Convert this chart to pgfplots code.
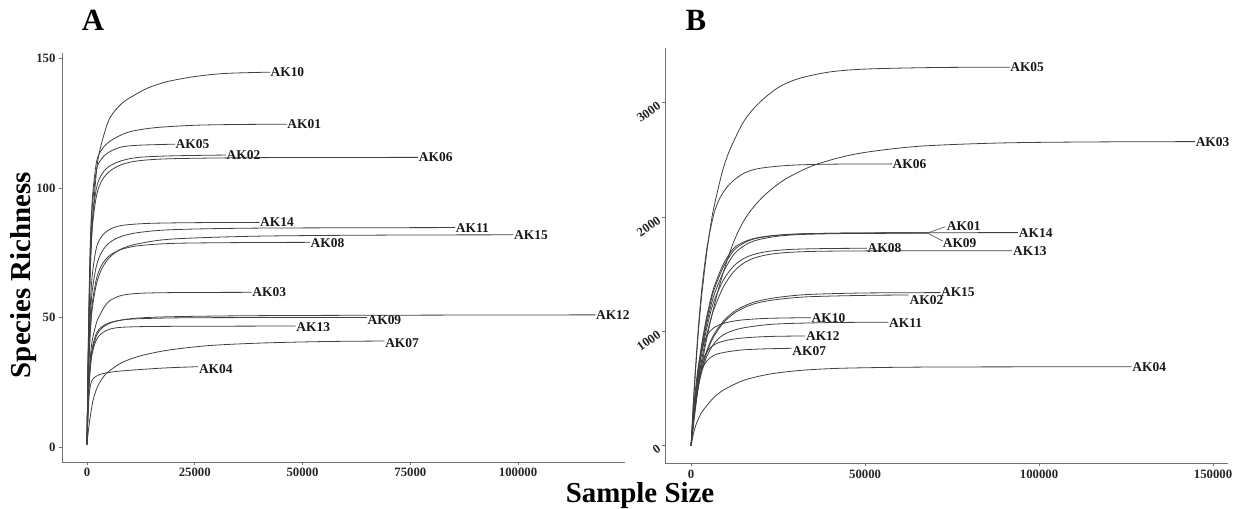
\documentclass[border=0pt]{standalone}
\usepackage{pgfplots}
\pgfplotsset{compat=1.18}
\usepackage{fontspec}
\setmainfont{Liberation Serif}
\begin{document}
\begin{tikzpicture}[x=1bp,y=1bp]
\useasboundingbox (0,0) rectangle (1237,509);
\pgfplotsset{
  rc/.style={scale only axis, clip=false,
    axis x line*=bottom, axis y line*=left,
    axis line style={-, draw=black!55, line width=0.9bp},
    tick align=outside, xtick pos=bottom, ytick pos=left,
    major tick length=3bp, tick style={black!55, line width=0.8bp},
    scaled ticks=false,
    /pgf/number format/fixed,
    /pgf/number format/1000 sep={},
    /pgf/number format/assume math mode=true,
    tick label style={font=\fontsize{12.8}{13}\selectfont\bfseries, text=black!85},
  },
  curve/.style={black!75, line width=0.8bp, smooth, no marks},
}
\tikzset{lab/.style={font=\fontsize{13.5}{14}\selectfont\bfseries, anchor=west, inner sep=0.6bp, text=black!90}}

% ---------------- Panel A ----------------
\begin{axis}[rc, at={(62bp,47bp)}, anchor=south west, width=563bp, height=409bp,
  xmin=-5800, xmax=124800, ymin=-5.8, ymax=152.1,
  xtick={0,25000,50000,75000,100000}, ytick={0,50,100,150}]
\addplot[curve] coordinates {(0,1)(300,35)(700,65)(1200,85)(2300,108)(3500,118)(5300,127)(8000,132.5)(10650,135.5)(14000,138.5)(18500,141)(25000,143)(32000,144.2)(42400,144.7)};
\addplot[curve] coordinates {(0,1)(300,40)(700,75)(1200,95)(2200,110)(3500,115)(5300,118)(8000,120.5)(10700,122)(16000,123.3)(25000,124.2)(35000,124.5)(46300,124.6)};
\addplot[curve] coordinates {(0,1)(300,38)(700,72)(1200,92)(2200,107)(3500,111.5)(5300,114)(8000,115.8)(12000,116.5)(20400,116.9)};
\addplot[curve] coordinates {(0,1)(300,36)(700,68)(1200,87)(2200,100)(3500,105.5)(5300,108.5)(8000,110.5)(12000,111.8)(20000,112.4)(32200,112.7)};
\addplot[curve] coordinates {(0,1)(300,35)(700,65)(1200,84)(2200,97)(3500,103)(5300,106.5)(8000,109)(12000,110.5)(20000,111.3)(40000,111.7)(76800,111.8)};
\addplot[curve] coordinates {(0,1)(300,30)(700,52)(1200,66)(2200,77)(3500,81.5)(5300,84)(8000,85.5)(14000,86.3)(25000,86.6)(40000,86.7)};
\addplot[curve] coordinates {(0,1)(300,28)(700,48)(1200,60)(2200,70)(3500,75.5)(5300,79)(8000,81.3)(12000,82.8)(20000,83.9)(40000,84.5)(85400,84.7)};
\addplot[curve] coordinates {(0,1)(300,25)(700,42)(1200,53)(2200,63)(3500,69)(5300,73.3)(8000,76.5)(12000,78.5)(20000,80.3)(40000,81.4)(70000,81.8)(98900,81.9)};
\addplot[curve] coordinates {(0,1)(300,26)(700,44)(1200,55)(2200,65)(3500,70.5)(5300,74)(8000,76.3)(12000,77.7)(20000,78.6)(35000,78.9)(51700,79.0)};
\addplot[curve] coordinates {(0,1)(300,20)(700,33)(1200,41)(2200,48)(3000,51)(4000,54)(5300,56.5)(8000,58.5)(12000,59.3)(20000,59.6)(38200,59.7)};
\addplot[curve] coordinates {(0,1)(300,18)(700,30)(1200,37)(2200,43)(3500,46)(5300,47.8)(8000,49)(12000,49.8)(20000,50.3)(40000,50.7)(80000,50.9)(117900,51)};
\addplot[curve] coordinates {(0,1)(300,19)(700,31)(1200,38)(2200,44)(3500,46.5)(5300,48)(8000,49)(12000,49.5)(25000,49.9)(64900,50)};
\addplot[curve] coordinates {(0,1)(300,18)(700,29)(1200,36)(2200,41.5)(3500,44)(5300,45.5)(8000,46.2)(14000,46.5)(25000,46.6)(48400,46.7)};
\addplot[curve] coordinates {(0,1)(300,6)(700,11)(1400,18)(2500,23.5)(4000,27.5)(5300,29.5)(8000,32.5)(12000,35)(18500,37.3)(28000,39.1)(40000,40.1)(55000,40.7)(69000,40.9)};
\addplot[curve] coordinates {(0,1)(200,10)(500,20)(900,24.5)(1500,26.5)(3000,28)(6000,29)(10700,29.7)(18000,30.5)(25800,31)};
\node[lab] at (axis cs:42400,144.7) {AK10};
\node[lab] at (axis cs:46300,124.6) {AK01};
\node[lab] at (axis cs:20400,116.9) {AK05};
\node[lab] at (axis cs:32200,112.7) {AK02};
\node[lab] at (axis cs:76800,111.8) {AK06};
\node[lab] at (axis cs:40000,86.7) {AK14};
\node[lab] at (axis cs:85400,84.7) {AK11};
\node[lab] at (axis cs:98900,81.9) {AK15};
\node[lab] at (axis cs:51700,78.6) {AK08};
\node[lab] at (axis cs:38200,59.7) {AK03};
\node[lab] at (axis cs:117900,51) {AK12};
\node[lab] at (axis cs:64900,48.9) {AK09};
\node[lab] at (axis cs:48400,46.4) {AK13};
\node[lab] at (axis cs:69000,40.0) {AK07};
\node[lab] at (axis cs:25800,29.9) {AK04};
\end{axis}

% ---------------- Panel B ----------------
\begin{axis}[rc, at={(665bp,45.7bp)}, anchor=south west, width=563bp, height=415.3bp,
  xmin=-7500, xmax=154300, ymin=-154, ymax=3479,
  xtick={0,50000,100000,150000}, ytick={0,1000,2000,3000},
  yticklabel style={rotate=35, anchor=east}]
% AK05
\addplot[curve] coordinates {(0,0)(500,280)(1000,530)(2000,960)(3000,1300)(4500,1690)(6000,2000)(7400,2200)(9000,2400)(10500,2540)(12200,2660)(15000,2830)(18000,2950)(21800,3060)(26000,3150)(31300,3215)(40000,3270)(50500,3295)(70000,3308)(91500,3311)};
% AK03
\addplot[curve] coordinates {(0,0)(1000,260)(2000,500)(3500,780)(5000,1010)(7000,1270)(9300,1520)(12200,1780)(15000,1960)(18000,2090)(21800,2210)(27000,2330)(34200,2440)(42000,2515)(50500,2568)(65800,2620)(88800,2648)(115000,2657)(144800,2660)};
% AK06
\addplot[curve] coordinates {(0,0)(500,300)(1000,560)(2000,1000)(3000,1350)(4500,1720)(6400,2010)(8000,2150)(10000,2250)(12200,2320)(15000,2380)(18000,2415)(21800,2435)(28000,2452)(35000,2460)(45000,2464)(57700,2465)};
% AK14
\addplot[curve] coordinates {(0,0)(500,185)(1000,350)(2000,635)(3000,860)(4500,1105)(6400,1345)(9300,1565)(12200,1705)(15000,1770)(18000,1808)(21800,1830)(26000,1843)(31300,1852)(40000,1858)(50000,1861)(70000,1863)(94000,1864)};
% AK01
\addplot[curve] coordinates {(0,0)(500,190)(1000,360)(2000,650)(3000,880)(4500,1130)(6400,1370)(9300,1590)(12200,1725)(15000,1780)(18000,1812)(21800,1832)(26000,1845)(31300,1853)(40000,1858)(50000,1861)(68100,1862)};
% AK09
\addplot[curve] coordinates {(0,0)(500,175)(1000,335)(2000,610)(3000,830)(4500,1070)(6400,1300)(9300,1520)(12200,1670)(15000,1745)(18000,1790)(21800,1818)(26000,1836)(31300,1847)(40000,1854)(50000,1857)(68100,1858)};
% AK08
\addplot[curve] coordinates {(0,0)(500,170)(1000,320)(2000,590)(3000,800)(4500,1030)(6400,1250)(9300,1450)(12200,1570)(15000,1635)(18000,1673)(21800,1698)(26000,1712)(31300,1720)(40000,1725)(50500,1727)};
% AK13
\addplot[curve] coordinates {(0,0)(500,150)(1000,290)(2000,540)(3000,740)(4500,970)(6400,1180)(9300,1390)(12200,1520)(15000,1595)(18000,1640)(21800,1670)(26000,1686)(31300,1696)(40000,1702)(60000,1705)(92300,1706)};
% AK15
\addplot[curve] coordinates {(0,0)(500,170)(1000,310)(2000,520)(3000,670)(4500,830)(6500,970)(9300,1090)(12000,1165)(14100,1205)(18000,1255)(23700,1292)(33200,1322)(50000,1336)(71600,1339)};
% AK02
\addplot[curve] coordinates {(0,0)(500,165)(1000,305)(2000,510)(3000,660)(4500,815)(6500,955)(9300,1075)(12000,1150)(14100,1190)(18000,1240)(23700,1275)(33200,1302)(50000,1315)(62500,1318)};
% AK10
\addplot[curve] coordinates {(0,0)(500,230)(1000,420)(2000,680)(3000,830)(4500,960)(6500,1030)(9300,1070)(14100,1098)(22000,1114)(34400,1120)};
% AK11
\addplot[curve] coordinates {(0,0)(500,160)(1000,300)(2000,500)(3000,640)(4500,780)(6500,890)(9300,970)(14100,1025)(23700,1063)(40000,1077)(56700,1080)};
% AK12
\addplot[curve] coordinates {(0,0)(500,200)(1000,370)(2000,590)(3000,720)(4500,820)(6500,880)(9300,915)(14100,940)(22000,955)(32800,960)};
% AK07
\addplot[curve] coordinates {(0,0)(500,210)(1000,380)(2000,560)(3000,660)(4500,740)(6500,790)(9300,815)(14100,836)(20000,846)(28900,852)};
% AK04
\addplot[curve] coordinates {(0,0)(700,110)(1600,200)(3000,290)(4500,350)(6500,420)(9300,487)(14100,560)(18000,597)(23700,632)(32000,660)(42800,677)(60000,686)(80000,689)(126600,691)};
\draw[black!70, line width=0.6bp] (axis cs:68100,1862) -- (axis cs:73000,1915);
\draw[black!70, line width=0.6bp] (axis cs:68100,1858) -- (axis cs:72300,1790);
\node[lab] at (axis cs:91500,3311) {AK05};
\node[lab] at (axis cs:144800,2660) {AK03};
\node[lab] at (axis cs:57700,2465) {AK06};
\node[lab] at (axis cs:94000,1864) {AK14};
\node[lab] at (axis cs:73300,1925) {AK01};
\node[lab] at (axis cs:72100,1771) {AK09};
\node[lab] at (axis cs:50500,1727) {AK08};
\node[lab] at (axis cs:92300,1706) {AK13};
\node[lab] at (axis cs:71600,1339) {AK15};
\node[lab] at (axis cs:62600,1275) {AK02};
\node[lab] at (axis cs:34400,1114) {AK10};
\node[lab] at (axis cs:56700,1071) {AK11};
\node[lab] at (axis cs:32800,960) {AK12};
\node[lab] at (axis cs:28900,831) {AK07};
\node[lab] at (axis cs:126600,691) {AK04};
\end{axis}

\node[font=\fontsize{29}{30}\selectfont\bfseries] at (640bp,13bp) {Sample Size};
\node[font=\fontsize{29}{30}\selectfont\bfseries, rotate=90] at (24bp,234bp) {Species Richness};
\node[font=\fontsize{31}{32}\selectfont\bfseries] at (93bp,488.5bp) {A};
\node[font=\fontsize{31}{32}\selectfont\bfseries] at (696bp,489bp) {B};
\end{tikzpicture}
\end{document}
